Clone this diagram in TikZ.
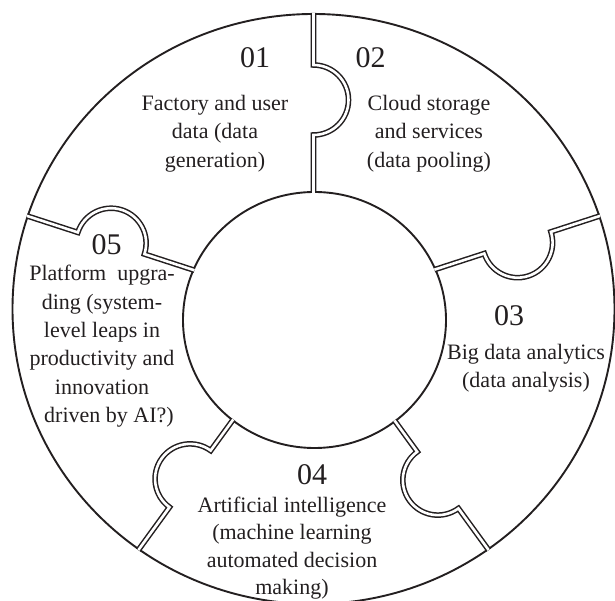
\documentclass[tikz,border=0pt]{standalone}
\usepackage{fontspec}
\setmainfont{Liberation Serif}
\usetikzlibrary{calc}
\definecolor{ink}{HTML}{231F20}
\begin{document}
\begin{tikzpicture}[x=1pt,y=1pt,
  ring/.style={draw=ink, line width=1.9pt},
  seam/.style={draw=ink, line width=1.5pt, double=white, double distance=2.6pt},
  num/.style={font=\fontsize{30}{36}\selectfont, text=ink, inner sep=0pt, anchor=base},
  txt/.style={font=\fontsize{22}{28.4}\selectfont, text=ink, inner sep=0pt, anchor=north, align=center}]
\useasboundingbox (0,0) rectangle (615,601);
\coordinate (O) at (313.5,292);
\coordinate (I) at (314.5,281);
\draw[ring] (O) ellipse [x radius=301pt, y radius=295pt];
\draw[ring] (I) ellipse [x radius=131.5pt, y radius=128pt];
\foreach \a/\ro/\ri/\d in {90/295/117/209, 18/300.4/128.1/214.6, -54/297/138.7/211.5, -126/297/137.5/210, 162/300.4/126.2/212.8}{
  \pgfmathsetmacro\rout{\ro+1}
  \pgfmathsetmacro\rin{\ri-1}
  \pgfmathsetmacro\rtab{\d+35}
  \draw[seam] ($(O)+(\a:\rout)$) -- ($(O)+(\a:\rtab)$) arc[start angle=\a, end angle=\a-180, radius=35pt] -- ($(O)+(\a:\rin)$);
}
\node[num] (n1) at (255,533.5) {01};
\node[txt] (t1) at (215,506) {Factory and user\\data (data\\generation)};
\node[num] (n2) at (370.6,533.5) {02};
\node[txt] (t2) at (429,506) {Cloud storage\\and services\\(data pooling)};
\node[num] (n3) at (509,275.5) {03};
\node[txt] (t3) at (526,257) {Big data analytics\\(data analysis)};
\node[num] (n4) at (312,116) {04};
\node[txt, font=\fontsize{22}{27.6}\selectfont] (t4) at (292,104.5) {Artificial intelligence\\(machine learning\\automated decision\\making)};
\node[num] (n5) at (106.7,346) {05};
\node[txt] (t5) at (102,336) {Platform\ \ upgra-\\ding (system-\\level leaps in\\productivity and\\innovation\\\hspace*{14pt}driven by AI?)};
\end{tikzpicture}
\end{document}
